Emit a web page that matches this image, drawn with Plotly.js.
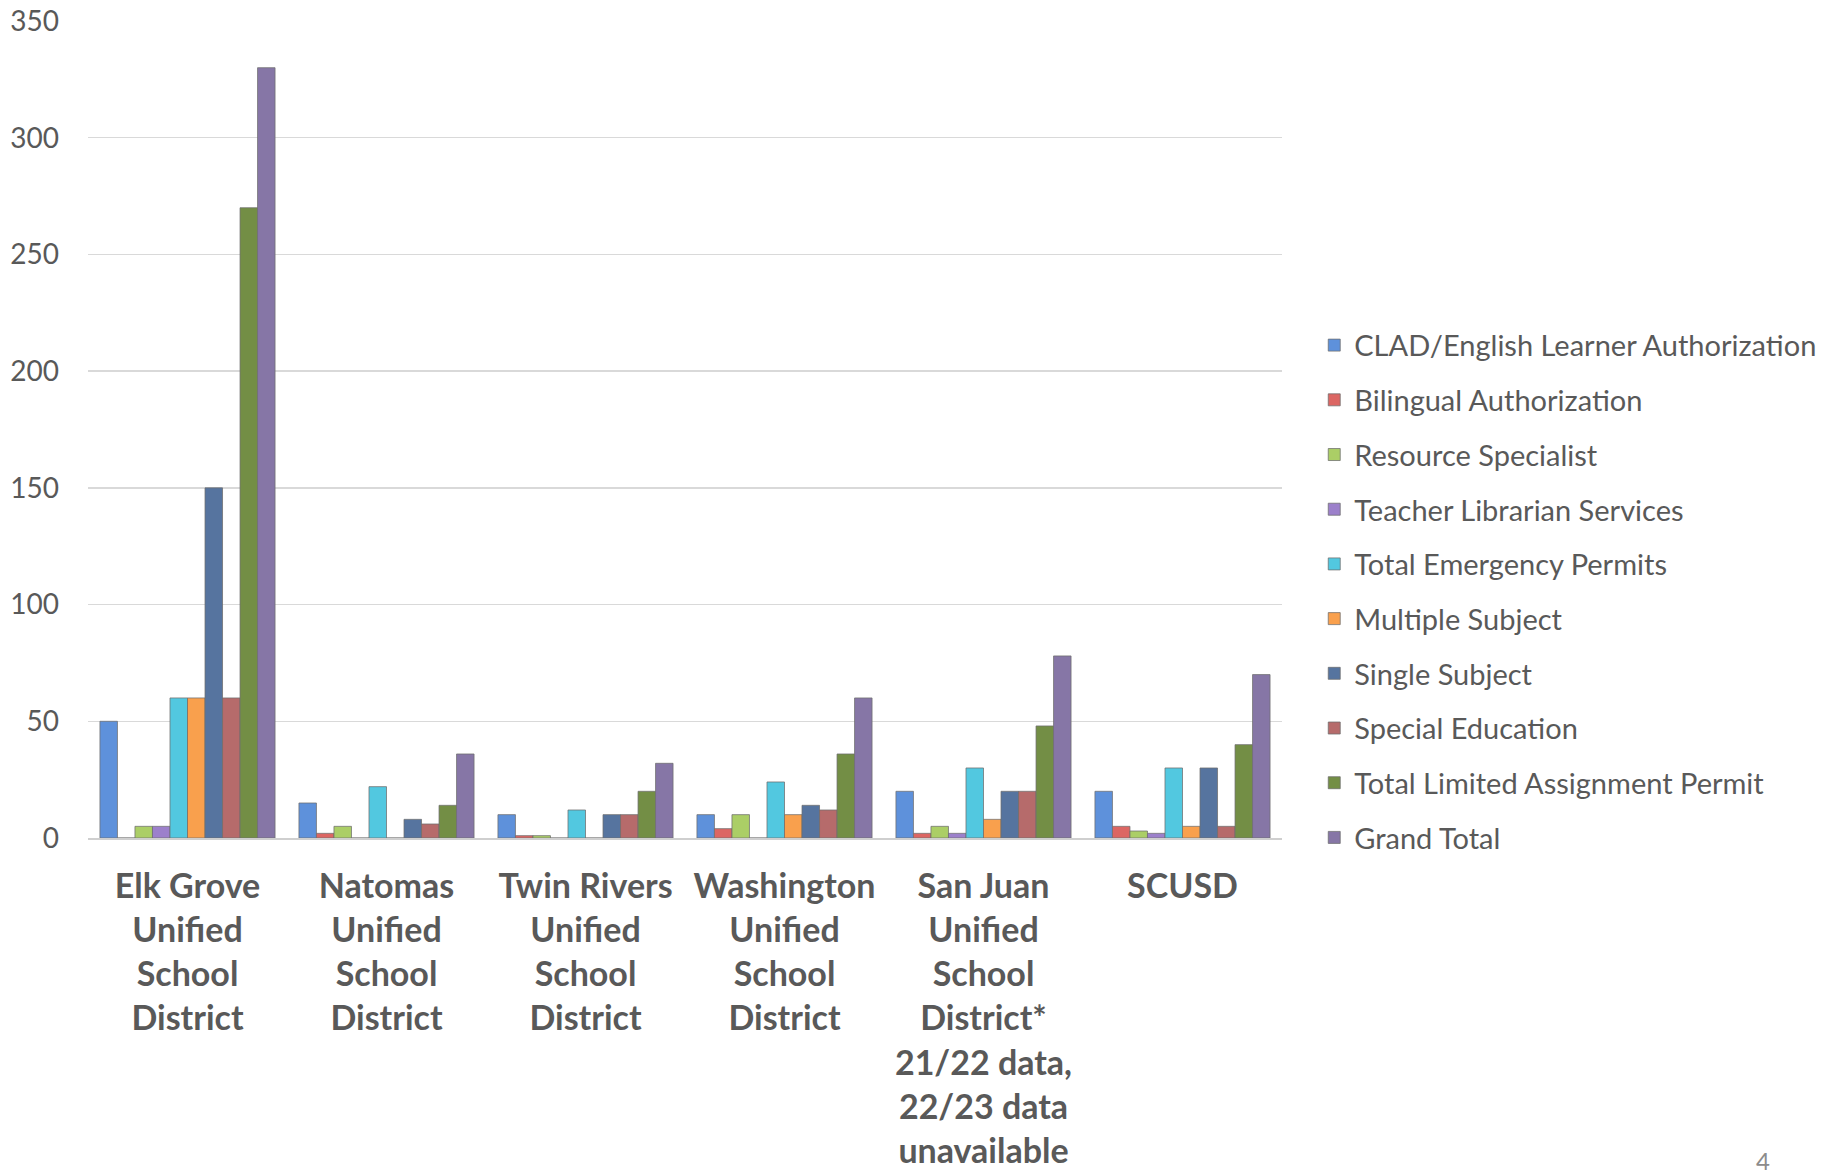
<!DOCTYPE html>
<html>
<head>
<meta charset="utf-8">
<script src="https://cdn.plot.ly/plotly-3.0.1.min.js"></script>
<style>
  html, body { margin: 0; padding: 0; background: #ffffff; }
  #chart { width: 1835px; height: 1175px; }
</style>
</head>
<body>
<div id="chart"></div>
<script>
// ---- Data ----
const categories = [
  "Elk Grove<br>Unified<br>School<br>District",
  "Natomas<br>Unified<br>School<br>District",
  "Twin Rivers<br>Unified<br>School<br>District",
  "Washington<br>Unified<br>School<br>District",
  "San Juan<br>Unified<br>School<br>District*<br>21/22 data,<br>22/23 data<br>unavailable",
  "SCUSD"
];

const seriesNames = [
  "CLAD/English Learner Authorization",
  "Bilingual Authorization",
  "Resource Specialist",
  "Teacher Librarian Services",
  "Total Emergency Permits",
  "Multiple Subject",
  "Single Subject",
  "Special Education",
  "Total Limited Assignment Permit",
  "Grand Total"
];

const cladEL          = [50, 15, 10, 10, 20, 20];
const bilingual       = [0, 2, 1, 4, 2, 5];
const resourceSpec    = [5, 5, 1, 10, 5, 3];
const teacherLib      = [5, 0, 0, 0, 2, 2];
const emergency       = [60, 22, 12, 24, 30, 30];
const multipleSubject = [60, 0, 0, 10, 8, 5];
const singleSubject   = [150, 8, 10, 14, 20, 30];
const specialEd       = [60, 6, 10, 12, 20, 5];
const limitedAssign   = [270, 14, 20, 36, 48, 40];
const grandTotal      = [330, 36, 32, 60, 78, 70];

const yTickVals = [0, 50, 100, 150, 200, 250, 300, 350];

// ---- Styling ----
const seriesValues = [cladEL, bilingual, resourceSpec, teacherLib, emergency,
  multipleSubject, singleSubject, specialEd, limitedAssign, grandTotal];
const colors = ["#5e91db", "#dc6663", "#abce66", "#9c80cb", "#52c8e0",
  "#f9a04d", "#56749f", "#b66b6b", "#738e45", "#8676a6"];

const FONT = "Lato, 'Open Sans', 'DejaVu Sans', sans-serif";
const TEXT = "#595959";

const traces = seriesNames.map((name, i) => ({
  type: "bar",
  name: name,
  x: categories,
  y: seriesValues[i],
  legendgroup: "g" + i,
  marker: {
    color: colors[i],
    line: { color: "rgba(110,110,110,0.75)", width: 1 }
  },
  hoverinfo: "x+y+name"
}));

const layout = {
  width: 1835,
  height: 1175,
  paper_bgcolor: "#ffffff",
  plot_bgcolor: "#ffffff",
  margin: { l: 88, r: 553, t: 21, b: 337, pad: 0 },
  barmode: "group",
  bargap: 0.12,
  bargroupgap: 0,
  font: { family: FONT, color: TEXT, size: 29 },
  showlegend: true,
  legend: {
    x: 1.027, xanchor: "left",
    y: 0.302, yanchor: "middle",
    font: { family: FONT, size: 29, color: TEXT },
    tracegroupgap: 14,
    traceorder: "grouped",
    bgcolor: "rgba(0,0,0,0)"
  },
  xaxis: {
    type: "category",
    tickmode: "array",
    tickvals: categories,
    ticktext: categories.map(c => "<b>" + c + "</b>"),
    tickfont: { family: FONT, size: 34, color: TEXT },
    ticks: "",
    showgrid: false,
    showline: true,
    linecolor: "#cfcfcf",
    linewidth: 2,
    zeroline: false,
    automargin: false,
    ticklabelstandoff: 17,
    fixedrange: true
  },
  yaxis: {
    range: [0, 350],
    tickmode: "array",
    tickvals: yTickVals,
    ticktext: yTickVals.map(String),
    tickfont: { family: FONT, size: 28, color: TEXT },
    ticks: "",
    showgrid: true,
    gridcolor: "#d9d9d9",
    gridwidth: 1.5,
    showline: false,
    zeroline: false,
    automargin: false,
    ticklabelstandoff: 28,
    fixedrange: true
  },
  annotations: [{
    text: "4",
    xref: "paper", yref: "paper",
    x: (1763 - 88) / 1194, y: -(1160 - 838) / 817,
    xanchor: "center", yanchor: "middle",
    showarrow: false,
    font: { family: FONT, size: 24, color: "#8c8c8c" }
  }]
};

Plotly.newPlot("chart", traces, layout, { displayModeBar: false, staticPlot: true });
</script>
</body>
</html>
